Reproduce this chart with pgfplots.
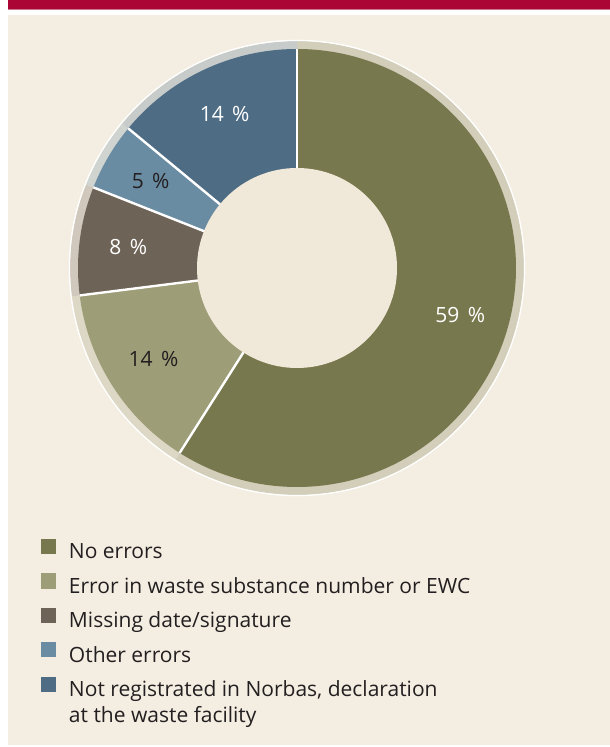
\documentclass[border=0pt]{standalone}
\usepackage{fontspec}
\setmainfont{Open Sans}
\usepackage{pgfplots}
\usepackage{pgfplotstable}
\pgfplotsset{compat=1.18}

\definecolor{panel}{RGB}{244,238,226}
\definecolor{hole}{RGB}{240,232,216}
\definecolor{topbar}{RGB}{170,5,52}
\definecolor{noerr}{RGB}{120,120,78}
\definecolor{ewc}{RGB}{157,157,119}
\definecolor{missing}{RGB}{110,99,87}
\definecolor{other}{RGB}{106,140,163}
\definecolor{notreg}{RGB}{78,108,132}
\definecolor{txt}{RGB}{35,31,32}

% share in percent, clockwise from 12 o'clock
\pgfplotstableread{
share slicecol labcol
59 noerr white
14 ewc txt
8 missing white
5 other txt
14 notreg white
}\slices

\begin{document}
\begin{tikzpicture}
% cumulative angles, kept global so the postponed axis commands see them
\def\acc{90}
\pgfplotsforeachungrouped \i in {0,...,4}{%
  \pgfplotstablegetelem{\i}{share}\of\slices \let\v\pgfplotsretval
  \pgfmathsetmacro\endang{\acc-3.6*\v}%
  \pgfmathsetmacro\midang{\acc-1.8*\v}%
  \expandafter\xdef\csname sa\i\endcsname{\acc}%
  \expandafter\xdef\csname ea\i\endcsname{\endang}%
  \expandafter\xdef\csname ma\i\endcsname{\midang}%
  \expandafter\xdef\csname sv\i\endcsname{\v}%
  \pgfplotstablegetelem{\i}{slicecol}\of\slices
  \expandafter\xdef\csname sc\i\endcsname{\pgfplotsretval}%
  \pgfplotstablegetelem{\i}{labcol}\of\slices
  \expandafter\xdef\csname lc\i\endcsname{\pgfplotsretval}%
  \global\let\acc\endang
}
\begin{axis}[
    x=1pt, y=1pt,
    xmin=0, xmax=610, ymin=0, ymax=747,
    hide axis, clip=false,
    legend image code/.code={\fill[#1, draw=none] (0pt,0pt) rectangle (15pt,15pt);},
    legend cell align=left,
    legend style={at={(axis cs:41,208)}, anchor=north west, draw=none, fill=none,
        inner sep=0pt, outer sep=0pt, row sep=9.5pt, column sep=13pt,
        font=\fontsize{21}{26}\selectfont, text=txt,
        nodes={inner sep=0pt, text height=15pt, text depth=5pt}},
]
% background and header bar
\fill[white] (axis cs:0,0) rectangle (axis cs:610,747);
\fill[topbar] (axis cs:8,738) rectangle (axis cs:610,747);
\fill[topbar!55!white] (axis cs:8,737) rectangle (axis cs:610,738);
\fill[panel] (axis cs:8,2) rectangle (axis cs:610,732.3);

% pale ring behind the donut
\pgfplotsinvokeforeach{0,...,4}{
  \fill[fill=\csname sc#1\endcsname!27!panel] (axis cs:297,479)
    -- ([shift={(\csname sa#1\endcsname:227pt)}]axis cs:297,479)
    arc[start angle=\csname sa#1\endcsname, end angle=\csname ea#1\endcsname, radius=227pt] -- cycle;
}
\draw[white, line width=1.3pt] (axis cs:297,479) circle[radius=227.6pt];

% slices
\pgfplotsinvokeforeach{0,...,4}{
  \fill[fill=\csname sc#1\endcsname] (axis cs:297,479)
    -- ([shift={(\csname sa#1\endcsname:219pt)}]axis cs:297,479)
    arc[start angle=\csname sa#1\endcsname, end angle=\csname ea#1\endcsname, radius=219pt] -- cycle;
}
\pgfplotsinvokeforeach{0,...,4}{
  \draw[white, line width=2.4pt] (axis cs:297,479)
    -- ([shift={(\csname sa#1\endcsname:219pt)}]axis cs:297,479);
}
\fill[hole] (axis cs:297,479) circle[radius=100pt];

% value labels
\pgfplotsinvokeforeach{0,...,4}{
  \node[text=\csname lc#1\endcsname, font=\fontsize{21}{24}\selectfont]
    at ([shift={(\csname ma#1\endcsname:170pt)}]axis cs:297,479) {\csname sv#1\endcsname\hspace{0.4em}\%};
}

\addlegendimage{fill=noerr}
\addlegendentry{No errors}
\addlegendimage{fill=ewc}
\addlegendentry{Error in waste substance number or EWC}
\addlegendimage{fill=missing}
\addlegendentry{Missing date/signature}
\addlegendimage{fill=other}
\addlegendentry{Other errors}
\addlegendimage{fill=notreg}
\addlegendentry{\begin{tabular}[t]{@{}l@{}}Not registrated in Norbas, declaration\\at the waste facility\end{tabular}}
\end{axis}
\end{tikzpicture}
\end{document}
